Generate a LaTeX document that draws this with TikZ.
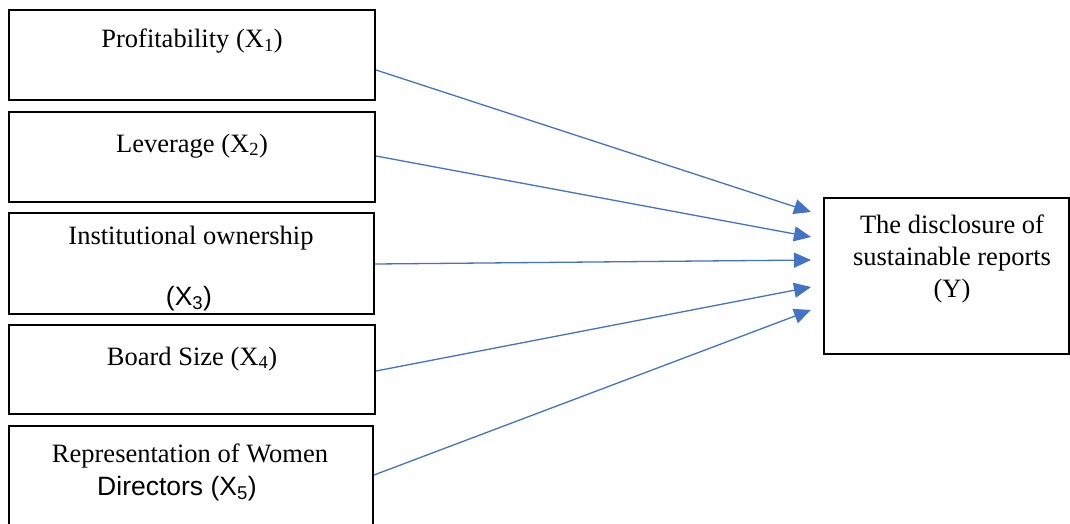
\documentclass[tikz,border=0pt]{standalone}
\usepackage{fontspec}
\setmainfont{Liberation Serif}
\newfontfamily\arialfont{Liberation Sans}
\usetikzlibrary{arrows.meta}
\definecolor{linkblue}{RGB}{68,114,196}
\tikzset{
  varbox/.style={draw=black, line width=2pt, inner sep=0pt, fill=none},
  lbl/.style={anchor=base, inner sep=0pt, font=\fontsize{26.5}{32}\selectfont},
  albl/.style={anchor=base, inner sep=0pt, font=\arialfont\fontsize{26.5}{32}\selectfont},
  link/.style={draw=linkblue, line width=1.3pt, -{Triangle[length=17pt,width=15pt]}}
}
\begin{document}
\begin{tikzpicture}[x=1pt,y=-1pt]
\useasboundingbox (0,0) rectangle (1070,524);
\fill[white] (0,0) rectangle (1070,524);
% boxes
\node[varbox, minimum width=366pt, minimum height=90pt] (b1) at (192,55) {};
\node[varbox, minimum width=366pt, minimum height=90pt] (b2) at (192,157) {};
\node[varbox, minimum width=365pt, minimum height=101pt] (b3) at (191.5,263.5) {};
\node[varbox, minimum width=366pt, minimum height=89pt] (b4) at (192,369.5) {};
\node[varbox, minimum width=364pt, minimum height=114pt] (b5) at (191,483) {};
\node[varbox, minimum width=245pt, minimum height=156pt] (y) at (946.5,276) {};
% texts
\node[lbl] (t1) at (192,48) {Profitability (X\textsubscript{1})};
\node[lbl] (t2) at (192,152) {Leverage (X\textsubscript{2})};
\node[lbl] (t3a) at (191,244) {Institutional ownership};
\node[albl] (t3b) at (189,305) {(X\textsubscript{3})};
\node[lbl] (t4) at (192,365) {Board Size (X\textsubscript{4})};
\node[lbl] (t5a) at (190,462) {Representation of Women};
\node[albl] (t5b) at (177,495) {Directors (X\textsubscript{5})};
\node[lbl] (ya) at (952,233) {The disclosure of};
\node[lbl] (yb) at (952,265) {sustainable reports};
\node[lbl] (yc) at (952,297) {(Y)};
% connector endpoints
\coordinate (s1) at (b1.east |- 0,70);
\coordinate (s2) at (b2.east |- 0,156);
\coordinate (s3) at (b3.east |- 0,264);
\coordinate (s4) at (b4.east |- 0,371);
\coordinate (s5) at (b5.east |- 0,475);
\coordinate (e1) at (811,212);
\coordinate (e2) at (811,237);
\coordinate (e3) at (811,260);
\coordinate (e4) at (811,287);
\coordinate (e5) at (811,310);
\draw[link] (s1) -- (e1);
\draw[link] (s2) -- (e2);
\draw[link] (s3) -- (e3);
\draw[link] (s4) -- (e4);
\draw[link] (s5) -- (e5);
\end{tikzpicture}
\end{document}
